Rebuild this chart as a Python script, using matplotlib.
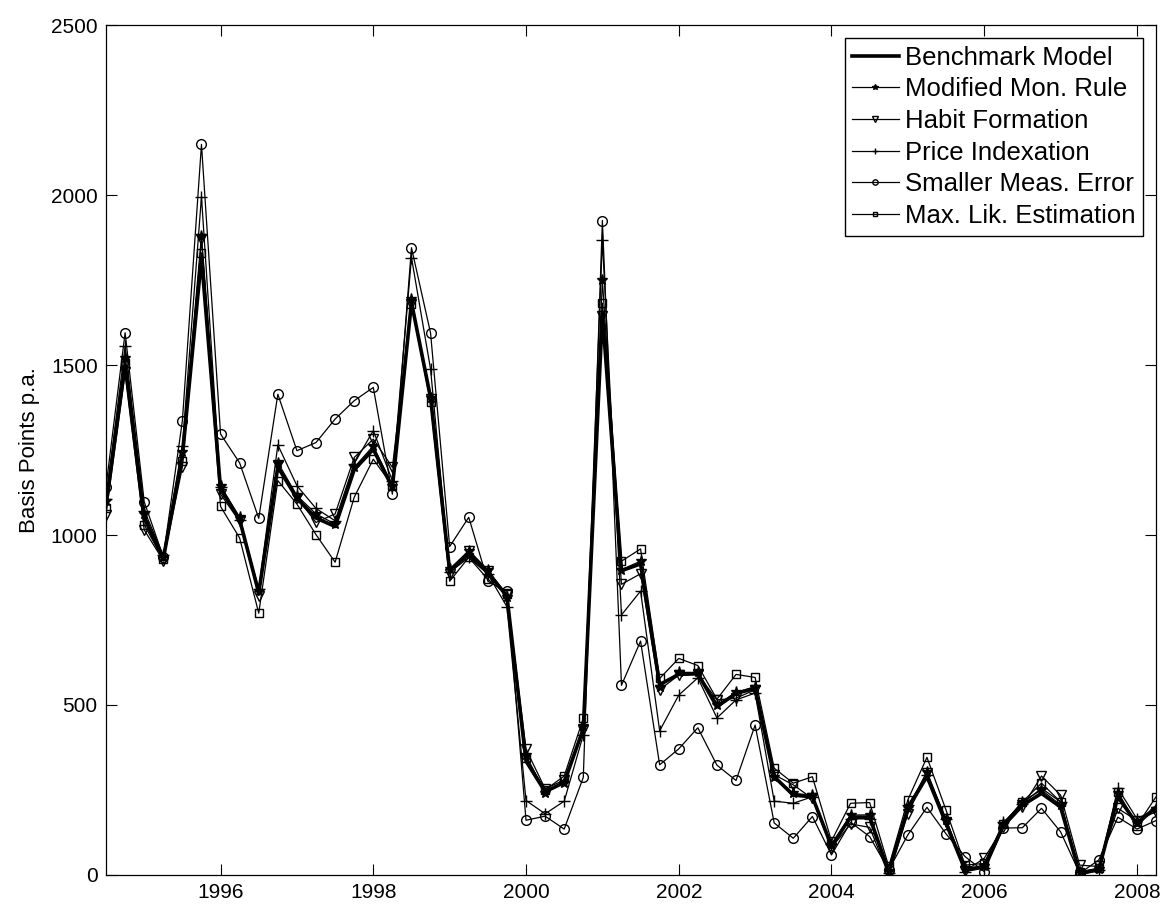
import numpy as np
import matplotlib
matplotlib.use("Agg")
import matplotlib.pyplot as plt

plt.rcParams['font.family'] = ['Liberation Sans', 'DejaVu Sans']

# quarterly dates, 1994Q3 .. 2008Q2
dates = 1994.5 + 0.25 * np.arange(56)

benchmark = [1090, 1500, 1050, 930, 1232, 1815, 1135, 1045, 830, 1200,
             1108, 1050, 1025, 1192, 1252, 1140, 1684, 1404, 895, 944,
             890, 820, 335, 245, 272, 430, 1652, 895, 915, 560,
             590, 592, 495, 534, 549, 289, 235, 230, 85, 170,
             170, 10, 195, 290, 152, 15, 25, 145, 205, 240,
             200, 5, 15, 230, 150, 200]
modified = [1100, 1522, 1062, 935, 1243, 1880, 1145, 1052, 836, 1213,
            1116, 1062, 1032, 1199, 1262, 1145, 1693, 1404, 900, 954,
            898, 819, 352, 242, 272, 437, 1749, 898, 923, 554,
            596, 596, 500, 537, 554, 289, 240, 235, 88, 176,
            177, 12, 196, 304, 162, 20, 25, 150, 216, 250,
            206, 8, 18, 240, 152, 195]
habit = [1060, 1480, 1015, 925, 1200, 1870, 1120, 1040, 822, 1205,
         1110, 1037, 1062, 1228, 1282, 1199, 1679, 1400, 885, 954,
         895, 825, 370, 254, 279, 425, 1645, 855, 886, 545,
         588, 590, 515, 520, 545, 295, 265, 225, 80, 150,
         140, 0, 180, 300, 155, 12, 49, 140, 200, 291,
         235, 29, 25, 196, 160, 186]
indexation = [1106, 1555, 1072, 940, 1262, 1995, 1140, 1045, 841, 1265,
              1145, 1078, 1042, 1210, 1307, 1160, 1816, 1488, 890, 934,
              885, 789, 219, 180, 217, 412, 1868, 765, 835, 424,
              529, 580, 462, 515, 535, 217, 211, 230, 90, 165,
              165, 5, 205, 295, 165, 10, 20, 155, 210, 255,
              215, 0, 15, 255, 165, 195]
meas_error = [1142, 1595, 1098, 935, 1336, 2149, 1297, 1212, 1049, 1414,
              1248, 1272, 1341, 1395, 1434, 1120, 1845, 1594, 966, 1052,
              864, 835, 161, 173, 135, 287, 1925, 558, 688, 324,
              371, 433, 323, 278, 441, 153, 108, 172, 59, 155,
              113, 15, 118, 199, 121, 54, 10, 138, 139, 196,
              127, 5, 44, 170, 135, 160]
max_lik = [1080, 1505, 1030, 928, 1218, 1830, 1084, 991, 770, 1160,
           1091, 1001, 920, 1111, 1223, 1145, 1679, 1390, 864, 934,
           870, 825, 345, 250, 291, 461, 1682, 923, 959, 578,
           637, 616, 517, 590, 581, 314, 270, 289, 100, 211,
           213, 25, 221, 346, 191, 29, 34, 150, 215, 270,
           215, 10, 20, 245, 145, 230]

fig = plt.figure(figsize=(11.65, 9.07), dpi=100)
ax = fig.add_axes([0.091, 0.0353, 0.9013, 0.9371])

ms = 7
ax.plot(dates, benchmark, color='k', lw=2.6, label='Benchmark Model', zorder=6)
ax.plot(dates, modified, color='k', lw=0.9, marker='*', ms=ms + 1, mfc='k',
        label='Modified Mon. Rule')
ax.plot(dates, habit, color='k', lw=0.9, marker='v', ms=ms, mfc='none',
        label='Habit Formation')
ax.plot(dates, indexation, color='k', lw=0.9, marker='+', ms=ms + 2, mew=1.0,
        label='Price Indexation')
ax.plot(dates, meas_error, color='k', lw=0.9, marker='o', ms=ms, mfc='none',
        label='Smaller Meas. Error')
ax.plot(dates, max_lik, color='k', lw=0.9, marker='s', ms=ms - 1, mfc='none',
        label='Max. Lik. Estimation')

ax.set_xlim(dates[0], dates[-1])
ax.set_ylim(0, 2500)
ax.set_xticks(np.arange(1996, 2009, 2))
ax.set_yticks(np.arange(0, 2501, 500))
ax.tick_params(direction='in', top=True, right=True, length=8, width=0.8,
               labelsize=15, pad=6)
for s in ax.spines.values():
    s.set_linewidth(0.9)
ax.set_ylabel('Basis Points p.a.', fontsize=16, labelpad=8)

leg = ax.legend(loc='upper right', fontsize=18.5, fancybox=False, framealpha=1,
                edgecolor='k', markerscale=0.55, handlelength=1.8,
                labelspacing=0.3, borderpad=0.3, handletextpad=0.25,
                borderaxespad=0.5)
leg.get_frame().set_linewidth(1.0)

fig.savefig('out.png', dpi=100)
